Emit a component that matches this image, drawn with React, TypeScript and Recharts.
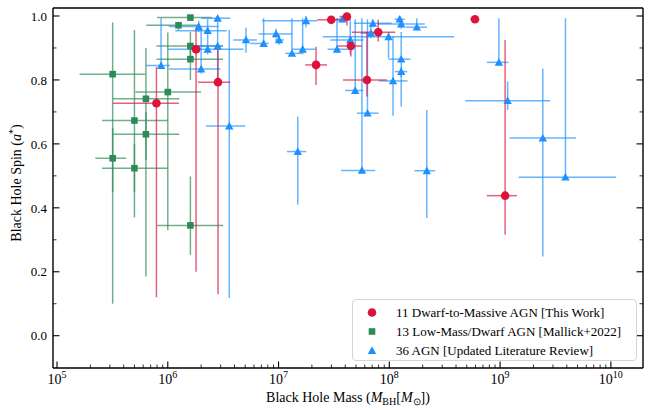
import React from 'react';
import { ScatterChart, Scatter, XAxis, YAxis, ErrorBar, Legend } from 'recharts';

const FONT = '"Liberation Serif", "Times New Roman", serif';
const RED = '#dc143c';
const GREEN = '#2e8b57';
const BLUE = '#1e90ff';

// 11 Dwarf-to-Massive AGN [This Work]
const workMass = [7.9e5, 1.8e6, 2.84e6, 2.18e7, 2.99e7, 4.14e7, 4.5e7, 6.28e7, 7.94e7, 5.93e8, 1.11e9];
const workMassLow = [3.2e5, 1.66e6, 1.87e6, 1.74e7, 2.24e7, 3.55e7, 3.4e7, 3.81e7, 4.59e7, 5.37e8, 7.6e8];
const workMassHigh = [1.26e6, 1.95e6, 3.66e6, 2.74e7, 3.98e7, 4.44e7, 5.66e7, 9.5e7, 1.13e8, 6.46e8, 1.42e9];
const workSpin = [0.727, 0.896, 0.793, 0.847, 0.988, 0.998, 0.906, 0.8, 0.949, 0.99, 0.438];
const workSpinLow = [0.12, 0.2, 0.13, 0.784, 0.985, 0.97, 0.873, 0.748, 0.92, 0.985, 0.316];
const workSpinHigh = [0.84, 0.96, 0.9, 0.904, 0.99, 1.0, 0.935, 0.95, 0.988, 0.995, 0.925];

// 13 Low-Mass/Dwarf AGN [Mallick+2022]
const mallickMass = [1.6e6, 1.25e6, 1.6e6, 1.6e6, 3.18e5, 1.0e6, 6.35e5, 5.0e5, 6.35e5, 3.18e5, 5.0e5, 1.6e6, 1.8e6];
const mallickMassLow = [8.0e5, 6.4e5, 7.9e5, 7.9e5, 1.6e5, 5.1e5, 3.18e5, 2.55e5, 3.18e5, 2.22e5, 2.55e5, 8.0e5, 1.6e6];
const mallickMassHigh = [2.5e6, 1.96e6, 3.15e6, 3.15e6, 6.27e5, 2.0e6, 1.27e6, 1.0e6, 1.27e6, 4.22e5, 1.0e6, 3.16e6, 2.0e6];
const mallickSpin = [0.995, 0.971, 0.906, 0.865, 0.818, 0.762, 0.741, 0.673, 0.63, 0.555, 0.524, 0.345, 0.896];
const mallickSpinLow = [0.99, 0.956, 0.86, 0.8, 0.1, 0.33, 0.185, 0.37, 0.55, 0.45, 0.45, 0.253, 0.88];
const mallickSpinHigh = [1.0, 0.982, 0.95, 0.9, 0.98, 0.948, 0.9, 0.956, 0.7, 0.65, 0.6, 0.498, 0.91];

// 36 AGN [Updated Literature Review]
const litMass = [
  8.7e5, 2.82e6, 1.9e6, 2.29e6, 2.29e6, 2.82e6, 2.0e6, 3.59e6, 5.08e6, 7.33e6,
  9.5e6, 1.01e7, 1.32e7, 1.65e7, 1.77e7, 1.49e7, 3.76e7, 3.37e7, 4.44e7, 4.92e7,
  6.35e7, 5.66e7, 7.1e7, 6.82e7, 9.84e7, 1.28e8, 1.28e8, 1.08e8, 1.24e8, 1.28e8,
  1.77e8, 2.18e8, 9.75e8, 1.17e9, 2.43e9, 3.89e9,
];
const litMassLow = [
  6.35e5, 2.0e6, 1.02e6, 1.17e6, 1.0e6, 1.6e6, 1.02e6, 2.21e6, 3.9e6, 5.56e6,
  6.6e6, 9.3e6, 1.15e7, 1.32e7, 7.1e6, 1.19e7, 3.31e7, 2.77e7, 2.93e7, 4.0e7,
  5.1e7, 3.66e7, 4.79e7, 5.5e7, 2.51e7, 9.84e7, 1.12e8, 8.0e7, 1.12e8, 7.76e7,
  1.4e8, 1.69e8, 7.6e8, 4.84e8, 1.22e9, 1.47e9,
];
const litMassHigh = [
  1.05e6, 3.67e6, 2.87e6, 3.39e6, 4.83e6, 3.15e6, 2.98e6, 5.0e6, 6.38e6, 8.13e6,
  1.32e7, 1.12e7, 1.68e7, 2.14e7, 2.24e7, 1.78e7, 4.44e7, 4.29e7, 5.85e7, 5.85e7,
  8.0e7, 7.46e7, 1.05e8, 8.5e7, 3.85e8, 1.55e8, 1.45e8, 1.46e8, 1.38e8, 2.09e8,
  2.19e8, 2.59e8, 1.19e9, 2.83e9, 4.86e9, 1.11e10,
];
const litSpin = [
  0.845, 0.993, 0.967, 0.954, 0.896, 0.906, 0.834, 0.656, 0.925, 0.914,
  0.944, 0.925, 0.883, 0.896, 0.985, 0.576, 0.99, 0.896, 0.925, 0.767,
  0.696, 0.517, 0.977, 0.946, 0.935, 0.865, 0.826, 0.797, 0.99, 0.975,
  0.965, 0.516, 0.855, 0.735, 0.618, 0.496,
];
const litSpinLow = [
  0.835, 0.985, 0.95, 0.93, 0.88, 0.8, 0.82, 0.118, 0.885, 0.905,
  0.93, 0.91, 0.875, 0.885, 0.965, 0.41, 0.98, 0.89, 0.88, 0.76,
  0.69, 0.51, 0.965, 0.93, 0.868, 0.717, 0.81, 0.688, 0.98, 0.96,
  0.955, 0.368, 0.85, 0.706, 0.248, 0.49,
];
const litSpinHigh = [
  0.993, 1.0, 0.985, 0.99, 0.93, 0.99, 0.96, 0.956, 0.963, 0.993,
  0.96, 0.94, 0.993, 0.993, 1.0, 0.685, 1.0, 0.993, 0.99, 0.99,
  0.99, 0.993, 0.99, 0.97, 0.95, 0.95, 0.84, 0.935, 1.0, 0.99,
  0.993, 0.706, 0.993, 0.795, 0.836, 0.993,
];

const legendItems = [
  { label: '11 Dwarf-to-Massive AGN [This Work]', color: RED, marker: 'circle' },
  { label: '13 Low-Mass/Dwarf AGN [Mallick+2022]', color: GREEN, marker: 'square' },
  { label: '36 AGN [Updated Literature Review]', color: BLUE, marker: 'triangle' },
];

const xMajor = [1e5, 1e6, 1e7, 1e8, 1e9, 1e10];
const xTicks: number[] = [];
for (let d = 5; d <= 10; d++) {
  for (let k = 1; k <= 9; k++) {
    const v = k * Math.pow(10, d);
    if (v <= 1.9e10) xTicks.push(v);
  }
}
const yTicks = [0, 0.1, 0.2, 0.3, 0.4, 0.5, 0.6, 0.7, 0.8, 0.9, 1.0];
const yMajor = [0, 0.2, 0.4, 0.6, 0.8, 1.0];

const toPoints = (mass: number[], lo: number[], hi: number[], spin: number[], sLo: number[], sHi: number[]) =>
  mass.map((m, i) => ({
    m,
    a: spin[i],
    mErr: [m - lo[i], hi[i] - m],
    aErr: [spin[i] - sLo[i], sHi[i] - spin[i]],
  }));

const workData = toPoints(workMass, workMassLow, workMassHigh, workSpin, workSpinLow, workSpinHigh);
const mallickData = toPoints(mallickMass, mallickMassLow, mallickMassHigh, mallickSpin, mallickSpinLow, mallickSpinHigh);
const litData = toPoints(litMass, litMassLow, litMassHigh, litSpin, litSpinLow, litSpinHigh);

const isMajorX = (v: number) => xMajor.some((m) => Math.abs(v / m - 1) < 1e-9);
const isMajorY = (v: number) => yMajor.some((m) => Math.abs(v - m) < 1e-9);

const Marker = ({ cx, cy, marker, color }: any) => {
  if (marker === 'circle') return <circle cx={cx} cy={cy} r={4.3} fill={color} />;
  if (marker === 'square') return <rect x={cx - 3.3} y={cy - 3.3} width={6.6} height={6.6} fill={color} />;
  return <polygon points={`${cx},${cy - 4.2} ${cx - 4.2},${cy + 3.4} ${cx + 4.2},${cy + 3.4}`} fill={color} />;
};

const BottomTick = ({ x, y, payload }: any) => {
  const v = payload.value;
  const major = isMajorX(v);
  return (
    <g>
      <line x1={x} x2={x} y1={y} y2={y - (major ? 6.5 : 3.5)} stroke="#000" strokeWidth={major ? 1.1 : 0.8} />
      {major && (
        <text x={x} y={y + 16} textAnchor="middle" fontSize={14} fontFamily={FONT} fill="#000">
          10<tspan dy={-6} fontSize={10}>{Math.round(Math.log10(v))}</tspan>
        </text>
      )}
    </g>
  );
};

const TopTick = ({ x, y, payload }: any) => {
  const major = isMajorX(payload.value);
  return <line x1={x} x2={x} y1={y} y2={y + (major ? 6.5 : 3.5)} stroke="#000" strokeWidth={major ? 1.1 : 0.8} />;
};

const LeftTick = ({ x, y, payload }: any) => {
  const v = payload.value;
  const major = isMajorY(v);
  return (
    <g>
      <line x1={x} x2={x + (major ? 6.5 : 3.5)} y1={y} y2={y} stroke="#000" strokeWidth={major ? 1.1 : 0.8} />
      {major && (
        <text x={x - 6} y={y} dy="0.36em" textAnchor="end" fontSize={13} fontFamily={FONT} fill="#000">
          {v.toFixed(1)}
        </text>
      )}
    </g>
  );
};

const RightTick = ({ x, y, payload }: any) => {
  const major = isMajorY(payload.value);
  return <line x1={x} x2={x - (major ? 6.5 : 3.5)} y1={y} y2={y} stroke="#000" strokeWidth={major ? 1.1 : 0.8} />;
};

const XLabel = () => (
  <text x={348} y={402} textAnchor="middle" fontSize={14} fontFamily={FONT} fill="#000">
    Black Hole Mass (<tspan fontStyle="italic">M</tspan>
    <tspan dy={3} fontSize={10}>BH</tspan>
    <tspan dy={-3}>[</tspan>
    <tspan fontStyle="italic">M</tspan>
    <tspan dy={3} fontSize={10}>⊙</tspan>
    <tspan dy={-3}>])</tspan>
  </text>
);

const YLabel = () => (
  <text x={0} y={0} transform="translate(21, 183) rotate(-90)" textAnchor="middle" fontSize={14} fontFamily={FONT} fill="#000">
    Black Hole Spin (<tspan fontStyle="italic">a</tspan>
    <tspan dy={-5} fontSize={10}>*</tspan>
    <tspan dy={5}>)</tspan>
  </text>
);

const LegendBox = () => (
  <div
    style={{
      border: '1px solid #d5d5d5',
      borderRadius: 4,
      background: 'rgba(255,255,255,0.85)',
      padding: '3px 0',
      fontFamily: FONT,
      fontSize: 13,
      color: '#000',
      boxSizing: 'border-box',
      width: 285,
      height: 62,
    }}
  >
    {legendItems.map((item) => (
      <div key={item.label} style={{ display: 'flex', alignItems: 'center', height: 19 }}>
        <svg width={40} height={19} style={{ flex: 'none' }}>
          <Marker cx={19} cy={9.5} marker={item.marker} color={item.color} />
        </svg>
        <span style={{ marginLeft: 3, whiteSpace: 'nowrap' }}>{item.label}</span>
      </div>
    ))}
  </div>
);

const series = [
  { name: 'mallick', data: mallickData, color: GREEN, marker: 'square' },
  { name: 'lit', data: litData, color: BLUE, marker: 'triangle' },
  { name: 'work', data: workData, color: RED, marker: 'circle' },
];

export default function App() {
  return (
    <div style={{ position: 'absolute', left: 0, top: 0, width: 656, height: 410, background: '#fff' }}>
      <ScatterChart width={656} height={410} margin={{ top: 7, right: 12, bottom: 41, left: 52 }}>
        <XAxis
          xAxisId="bottom"
          type="number"
          dataKey="m"
          scale="log"
          domain={[9.2e4, 1.95e10]}
          allowDataOverflow
          ticks={xTicks}
          interval={0}
          height={1}
          tickSize={0}
          tickMargin={0}
          tickLine={false}
          tick={<BottomTick />}
          axisLine={{ stroke: '#000', strokeWidth: 1.4 }}
          label={<XLabel />}
        />
        <XAxis
          xAxisId="top"
          orientation="top"
          type="number"
          scale="log"
          domain={[9.2e4, 1.95e10]}
          allowDataOverflow
          ticks={xTicks}
          interval={0}
          height={1}
          tickSize={0}
          tickMargin={0}
          tickLine={false}
          tick={<TopTick />}
          axisLine={{ stroke: '#000', strokeWidth: 1.4 }}
        />
        <YAxis
          yAxisId="left"
          type="number"
          dataKey="a"
          domain={[-0.101, 1.025]}
          allowDataOverflow
          ticks={yTicks}
          interval={0}
          width={1}
          tickSize={0}
          tickMargin={0}
          tickLine={false}
          tick={<LeftTick />}
          axisLine={{ stroke: '#000', strokeWidth: 1.4 }}
          label={<YLabel />}
        />
        <YAxis
          yAxisId="right"
          orientation="right"
          type="number"
          domain={[-0.101, 1.025]}
          allowDataOverflow
          ticks={yTicks}
          interval={0}
          width={1}
          tickSize={0}
          tickMargin={0}
          tickLine={false}
          tick={<RightTick />}
          axisLine={{ stroke: '#000', strokeWidth: 1.4 }}
        />
        {series.map((s) => (
          <Scatter
            key={s.name}
            data={s.data}
            xAxisId="bottom"
            yAxisId="left"
            isAnimationActive={false}
            shape={(p: any) => <Marker cx={p.cx} cy={p.cy} marker={s.marker} color={s.color} />}
          >
            <ErrorBar dataKey="mErr" direction="x" width={0} stroke={s.color} strokeWidth={1.5} strokeOpacity={0.68} />
            <ErrorBar dataKey="aErr" direction="y" width={0} stroke={s.color} strokeWidth={1.5} strokeOpacity={0.68} />
          </Scatter>
        ))}
        <Legend
          layout="horizontal"
          verticalAlign="middle"
          align="center"
          wrapperStyle={{ left: 352, top: 299, width: 285, height: 62 }}
          content={() => <LegendBox />}
        />
      </ScatterChart>
    </div>
  );
}
